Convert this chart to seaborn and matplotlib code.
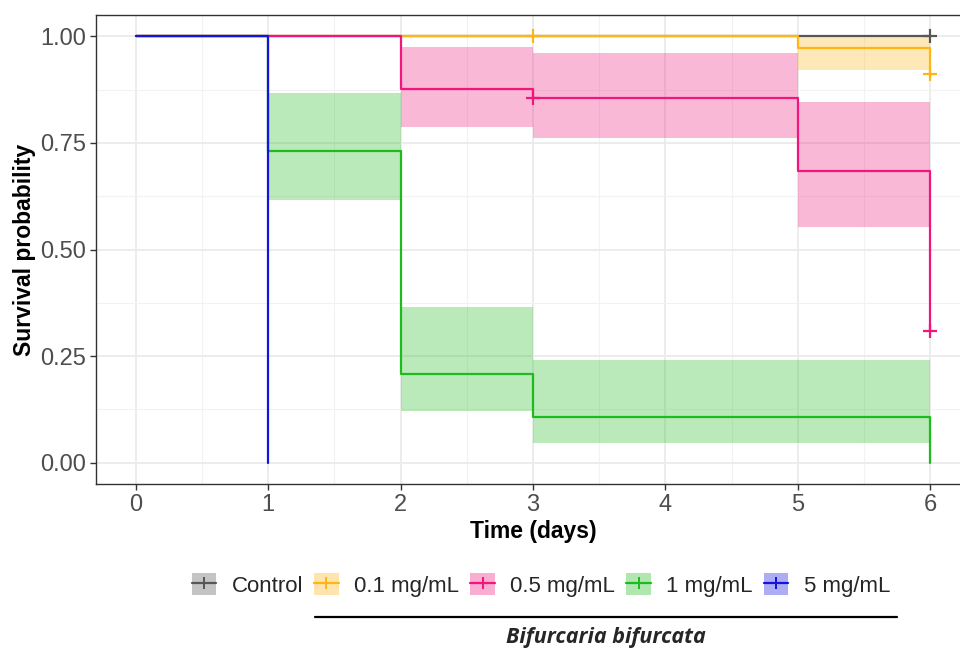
import numpy as np
import pandas as pd
import matplotlib
matplotlib.use("Agg")
import matplotlib.pyplot as plt
import seaborn as sns
from matplotlib.patches import Patch
from matplotlib.lines import Line2D
from matplotlib.ticker import MultipleLocator

# ---------------- data ----------------
groups = ["Control", "0.1 mg/mL", "0.5 mg/mL", "1 mg/mL", "5 mg/mL"]
colors = ["#575757", "#FFB515", "#F0167D", "#1DBB1D", "#1414DD"]

control_time = [0, 6]
control_surv = [1.0, 1.0]

# upper/lower: confidence limits for each interval [time[i], time[i+1])
c01_time = [0, 5, 6]
c01_surv = [1.0, 0.972, 0.911]
c01_upper = [1.0, 1.0]
c01_lower = [1.0, 0.921]

c05_time = [0, 2, 3, 5, 6]
c05_surv = [1.0, 0.877, 0.855, 0.684, 0.309]
c05_upper = [1.0, 0.975, 0.961, 0.846]
c05_lower = [1.0, 0.787, 0.761, 0.553]

c1_time = [0, 1, 2, 3, 6]
c1_surv = [1.0, 0.731, 0.209, 0.106, 0.0]
c1_upper = [1.0, 0.866, 0.364, 0.241]
c1_lower = [1.0, 0.615, 0.122, 0.047]

c5_time = [0, 1]
c5_surv = [1.0, 0.0]

# censoring marks
censor_group = ["Control", "0.1 mg/mL", "0.1 mg/mL", "0.5 mg/mL", "0.5 mg/mL"]
censor_time = [6, 3, 6, 3, 6]
censor_surv = [1.0, 1.0, 0.911, 0.855, 0.309]

x_ticks = [0, 1, 2, 3, 4, 5, 6]
y_ticks = [0.0, 0.25, 0.50, 0.75, 1.0]
y_tick_labels = ["0.00", "0.25", "0.50", "0.75", "1.00"]

# ---------------- figure ----------------
sns.set_theme(style="white")
plt.rcParams["font.family"] = ["Liberation Sans", "DejaVu Sans"]

fig = plt.figure(figsize=(9.6, 6.51), dpi=100)
ax = fig.add_axes([96 / 960, 1 - 484 / 651, 874 / 960, 469 / 651])

curves = [
    (control_time, control_surv, None, None),
    (c01_time, c01_surv, c01_upper, c01_lower),
    (c05_time, c05_surv, c05_upper, c05_lower),
    (c1_time, c1_surv, c1_upper, c1_lower),
    (c5_time, c5_surv, None, None),
]
cmap = dict(zip(groups, colors))

# confidence bands (step shaped)
for g, (t, s, up, lo) in zip(groups, curves):
    if up is not None:
        up_d = list(up) + [up[-1]]
        lo_d = list(lo) + [lo[-1]]
        ax.fill_between(t, lo_d, up_d, step="post", color=cmap[g], alpha=0.3,
                        linewidth=0, zorder=2)

# step survival curves
for g, (t, s, up, lo) in zip(groups, curves):
    df = pd.DataFrame({"time": t, "surv": s})
    sns.lineplot(data=df, x="time", y="surv", drawstyle="steps-post",
                 color=cmap[g], linewidth=1.6, estimator=None, sort=False,
                 ax=ax, zorder=3)

# censor marks
cdf = pd.DataFrame({"group": censor_group, "time": censor_time, "surv": censor_surv})
for g in groups:
    sub = cdf[cdf["group"] == g]
    if len(sub):
        ax.plot(sub["time"], sub["surv"], linestyle="none", marker="+",
                markersize=10, markeredgewidth=1.6, color=cmap[g], zorder=4)

# axes styling (theme_bw-like)
ax.set_xlim(-0.3, 6.3)
ax.set_ylim(-0.05, 1.05)
ax.set_xticks(x_ticks)
ax.set_yticks(y_ticks)
ax.set_yticklabels(y_tick_labels)
ax.xaxis.set_minor_locator(MultipleLocator(0.5))
ax.yaxis.set_minor_locator(MultipleLocator(0.125))
ax.grid(which="major", color="#EBEBEB", linewidth=1.3, zorder=0)
ax.grid(which="minor", color="#F2F2F2", linewidth=0.8, zorder=0)
ax.set_axisbelow(True)
for sp in ax.spines.values():
    sp.set_color("#333333")
    sp.set_linewidth(1.0)
ax.tick_params(axis="both", which="major", length=4, width=1.0, color="#333333",
               labelsize=17, labelcolor="#4D4D4D", pad=3, bottom=True, left=True)
ax.tick_params(axis="both", which="minor", length=0)
ax.set_xlabel("Time (days)", fontsize=16.5, fontweight="bold", color="black", labelpad=3)
ax.set_ylabel("Survival probability", fontsize=16.5, fontweight="bold", color="black", labelpad=3)

# legend
handles = []
for g in groups:
    c = cmap[g]
    handles.append((Patch(facecolor=c, alpha=0.35, edgecolor="none"),
                    Line2D([], [], color=c, linewidth=1.6, marker="+",
                           markersize=8, markeredgewidth=1.4)))
fig.legend(handles, groups, ncol=5, loc="center",
           bbox_to_anchor=(541 / 960, 1 - 585 / 651), frameon=False,
           fontsize=16, handlelength=1.1, handleheight=1.1,
           handletextpad=0.7, columnspacing=0.5, borderpad=0.2)

# caption line and species name
fig.add_artist(Line2D([315 / 960, 897 / 960], [1 - 617 / 651, 1 - 617 / 651],
                      color="black", linewidth=1.6, transform=fig.transFigure))
fig.text(606 / 960, 1 - 627 / 651, "Bifurcaria bifurcata", ha="center", va="top",
         fontsize=15.5, style="italic", fontweight="bold",
         family=["Open Sans", "DejaVu Sans"])

fig.savefig("out.png", dpi=100)
